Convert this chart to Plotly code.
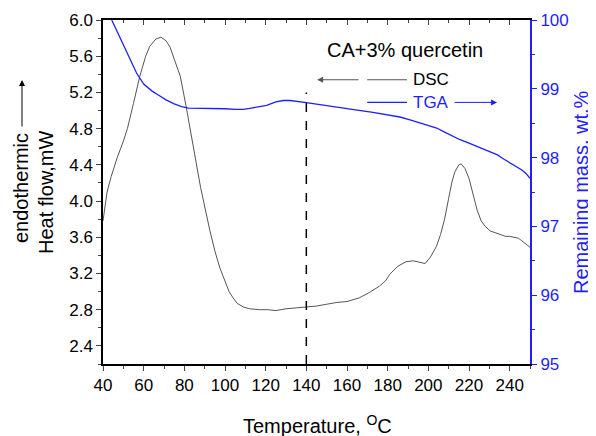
import plotly.graph_objects as go

# ---------------- data ----------------
dsc_temp = [40, 41, 42, 44, 47, 50, 52, 55, 58, 61, 63, 66, 68.5, 71, 73, 75, 78, 81, 84, 88,
            92.6, 95, 97.5, 100, 102, 104, 106, 109, 112, 117, 121, 125, 130, 135, 140, 145,
            150, 155, 160, 166, 171, 176, 179, 181, 185, 189, 192.6, 195, 198.4, 201, 204,
            206, 208, 210, 211.5, 213, 215, 216.2, 218, 220, 222, 224, 226, 228, 230.4, 233,
            236, 238, 240, 242, 244.3, 246, 248, 250]
dsc_heat = [3.78, 3.95, 4.10, 4.27, 4.48, 4.66, 4.80, 5.08, 5.37, 5.60, 5.71, 5.79, 5.81, 5.77,
            5.70, 5.57, 5.38, 5.03, 4.67, 4.15, 3.67, 3.45, 3.26, 3.11, 3.00, 2.93, 2.87, 2.83,
            2.81, 2.80, 2.80, 2.79, 2.81, 2.82, 2.83, 2.84, 2.86, 2.88, 2.89, 2.93, 2.99, 3.06,
            3.12, 3.19, 3.28, 3.33, 3.34, 3.33, 3.31, 3.38, 3.50, 3.63, 3.80, 4.03, 4.20, 4.32,
            4.40, 4.41, 4.36, 4.25, 4.08, 3.90, 3.78, 3.72, 3.67, 3.65, 3.63, 3.61, 3.61, 3.60,
            3.59, 3.56, 3.52, 3.49]

tga_temp = [44.3, 47, 50, 53, 56.5, 60, 64, 67.2, 71, 75, 78.7, 82, 86, 91, 96, 100, 105, 109,
            113, 117, 120.5, 125, 128.7, 132, 135.3, 140, 146.7, 152, 158.2, 165, 172, 180, 186,
            191, 196, 200, 204.1, 208, 212, 215.6, 220, 224, 228, 231.2, 234, 237, 240.2, 243,
            246, 248, 250]
tga_mass = [100.0, 99.83, 99.63, 99.43, 99.23, 99.07, 98.97, 98.91, 98.84, 98.78, 98.74, 98.72,
            98.72, 98.72, 98.71, 98.71, 98.70, 98.70, 98.72, 98.74, 98.76, 98.81, 98.83, 98.83,
            98.82, 98.80, 98.77, 98.75, 98.72, 98.69, 98.66, 98.62, 98.59, 98.55, 98.50, 98.46,
            98.43, 98.37, 98.31, 98.26, 98.21, 98.16, 98.12, 98.07, 98.04, 97.98, 97.92, 97.88,
            97.82, 97.77, 97.70]

x_range = [40, 250]
heat_range = [2.2, 6.0]
mass_range = [95, 100]
marker_temp = 140
marker_heat_top = 5.2

sample_title = "CA+3% quercetin"
dsc_label = "DSC"
tga_label = "TGA"
x_title = "Temperature, <sup>O</sup>C"
y_title_1 = "endothermic"
y_title_2 = "Heat flow,mW"
y2_title = "Remaining mass, wt.%"

BLUE = "#1f1fff"
GRAY = "#555555"
FONT = "Liberation Sans, Arial, sans-serif"

# page body has an 8px margin; plot area in window px: x 103..530, y 20..364
OFF = 8
L, T = 103 - OFF, 20 - OFF
PW, PH = 427, 344


def px(xw):
    return (xw - 103) / PW


def py(yw):
    return (364 - yw) / PH


fig = go.Figure()
fig.add_trace(go.Scatter(x=dsc_temp, y=dsc_heat, mode="lines",
                         line=dict(color=GRAY, width=1), yaxis="y", showlegend=False))
fig.add_trace(go.Scatter(x=tga_temp, y=tga_mass, mode="lines",
                         line=dict(color=BLUE, width=1.3), yaxis="y2", showlegend=False))
# invisible trace for top mirror axis
fig.add_trace(go.Scatter(x=x_range, y=heat_range, mode="lines", xaxis="x2", yaxis="y",
                         line=dict(width=0), hoverinfo="skip", showlegend=False, opacity=0))

# dashed marker line
fig.add_shape(type="line", xref="x", yref="y", x0=marker_temp, x1=marker_temp,
              y0=heat_range[0], y1=marker_heat_top, line=dict(color="black", width=1.5, dash="dash"))

# legend-like samples
dsc_y = 5.34
tga_y = 5.09
fig.add_shape(type="line", xref="x", yref="y", x0=169.9, x1=189.5, y0=dsc_y, y1=dsc_y,
              line=dict(color=GRAY, width=1))
fig.add_shape(type="line", xref="x", yref="y", x0=169.9, x1=189.5, y0=tga_y, y1=tga_y,
              line=dict(color=BLUE, width=1.2))
fig.add_annotation(x=145.3, y=dsc_y, ax=166.4, ay=dsc_y, xref="x", yref="y", axref="x", ayref="y",
                   text="", showarrow=True, arrowhead=2, arrowsize=1.2, arrowwidth=1, arrowcolor=GRAY)
fig.add_annotation(x=233.8, y=tga_y, ax=212.2, ay=tga_y, xref="x", yref="y", axref="x", ayref="y",
                   text="", showarrow=True, arrowhead=2, arrowsize=1.2, arrowwidth=1, arrowcolor=BLUE)
fig.add_annotation(x=191.5, y=dsc_y, xref="x", yref="y", text=dsc_label, showarrow=False,
                   xanchor="left", yanchor="middle", font=dict(size=17, color="black", family=FONT))
fig.add_annotation(x=191.5, y=tga_y, xref="x", yref="y", text=tga_label, showarrow=False,
                   xanchor="left", yanchor="middle", font=dict(size=17, color=BLUE, family=FONT))
fig.add_annotation(x=px(405), y=py(50), xref="paper", yref="paper",
                   text=sample_title, showarrow=False, xanchor="center", yanchor="middle",
                   font=dict(size=20, color="black", family=FONT))

# axis titles
fig.add_annotation(x=px(317), y=py(424), xref="paper", yref="paper", text=x_title,
                   showarrow=False, xanchor="center", yanchor="middle",
                   font=dict(size=20, color="black", family=FONT))
fig.add_annotation(x=px(21), y=py(188), xref="paper", yref="paper", text=y_title_1,
                   showarrow=False, xanchor="center", yanchor="middle", textangle=-90,
                   font=dict(size=20, color="black", family=FONT))
fig.add_annotation(x=px(46), y=py(192), xref="paper", yref="paper", text=y_title_2,
                   showarrow=False, xanchor="center", yanchor="middle", textangle=-90,
                   font=dict(size=20, color="black", family=FONT))
fig.add_annotation(x=px(581), y=py(192), xref="paper", yref="paper", text=y2_title,
                   showarrow=False, xanchor="center", yanchor="middle", textangle=-90,
                   font=dict(size=20, color=BLUE, family=FONT))
# endothermic arrow
fig.add_annotation(x=px(22), y=py(80), ax=0, ay=48,
                   xref="paper", yref="paper", axref="pixel", ayref="pixel", text="",
                   showarrow=True, arrowhead=2, arrowsize=1.2, arrowwidth=1, arrowcolor="black")

tickfont = dict(size=17, color="black", family=FONT)
fig.update_layout(
    width=596 - OFF, height=436 - OFF,
    margin=dict(l=L, r=66, t=T, b=72),
    plot_bgcolor="white", paper_bgcolor="white",
    font=dict(family=FONT),
    xaxis=dict(range=x_range, dtick=20, tick0=40, ticks="outside", ticklen=5, tickwidth=1.2,
               showline=True, linecolor="black", linewidth=1.5, showgrid=False, zeroline=False,
               tickfont=tickfont, automargin=False,
               minor=dict(dtick=10, ticks="outside", ticklen=3, tickwidth=1.2, showgrid=False)),
    xaxis2=dict(range=x_range, overlaying="x", side="top", anchor="y", dtick=20, tick0=40,
                ticks="inside", ticklen=5, tickwidth=1.2, showticklabels=False, showline=True,
                linecolor="black", linewidth=1.5, showgrid=False, zeroline=False, automargin=False,
                minor=dict(dtick=10, ticks="inside", ticklen=3, tickwidth=1.2, showgrid=False)),
    yaxis=dict(range=heat_range, dtick=0.4, tick0=2.4, tickformat=".1f", ticks="outside",
               ticklen=5, tickwidth=1.2, showline=True, linecolor="black", linewidth=1.5,
               showgrid=False, zeroline=False, tickfont=tickfont, automargin=False,
               minor=dict(dtick=0.2, tick0=2.2, ticks="outside", ticklen=3, tickwidth=1.2, showgrid=False)),
    yaxis2=dict(range=mass_range, overlaying="y", side="right", anchor="x", dtick=1,
                ticks="outside", ticklen=5, tickwidth=1.2, tickcolor=BLUE, showline=True,
                linecolor=BLUE, linewidth=2, showgrid=False, zeroline=False, automargin=False,
                tickfont=dict(size=17, color=BLUE, family=FONT),
                minor=dict(dtick=0.5, ticks="outside", ticklen=3, tickwidth=1.2, tickcolor=BLUE, showgrid=False)),
)

fig.write_html("out.html")
